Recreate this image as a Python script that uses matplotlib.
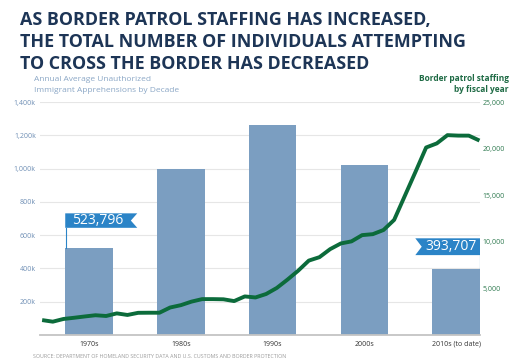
import numpy as np
import matplotlib.pyplot as plt
from matplotlib.patches import Polygon

# Apprehensions by decade
decades = ["1970s", "1980s", "1990s", "2000s", "2010s (to date)"]
apprehensions = [523796, 1000000, 1261000, 1021000, 393707]

# Border patrol staffing by fiscal year
years = list(range(1973, 2015))
staffing = [1600, 1430, 1720, 1850, 1990, 2120, 2040, 2320, 2150, 2380,
            2390, 2390, 2950, 3200, 3580, 3850, 3850, 3830, 3640, 4139,
            4028, 4400, 5049, 5942, 6895, 7982, 8351, 9212, 9821, 10045,
            10717, 10819, 11264, 12349, 14923, 17499, 20119, 20558, 21444, 21394,
            21391, 20863]

left_ticks = [200000, 400000, 600000, 800000, 1000000, 1200000, 1400000]
left_labels = ["200k", "400k", "600k", "800k", "1,000k", "1,200k", "1,400k"]
right_ticks = [5000, 10000, 15000, 20000, 25000]
right_labels = ["5,000", "10,000", "15,000", "20,000", "25,000"]

navy = "#1d3556"
bar_col = "#7b9ec1"
green = "#0c6b3b"
flag_col = "#2b84c7"

plt.rcParams['font.family'] = ['Open Sans', 'DejaVu Sans']

fig = plt.figure(figsize=(5.2, 3.64), dpi=100)
pos = [40/520, 1 - 335/364, 440/520, 233/364]
ax = fig.add_axes(pos)

x = np.arange(len(decades))
w = 0.52
ax.bar(x, apprehensions, width=w, color=bar_col, zorder=2)
ax.set_xlim(-0.535, 4.26)
ax.set_ylim(0, 1400000)
ax.set_yticks(left_ticks)
ax.set_yticklabels(left_labels)
ax.set_xticks(x)
ax.set_xticklabels(decades)
ax.tick_params(axis='y', length=0, pad=3, labelsize=5, labelcolor="#6f8fb5")
ax.tick_params(axis='x', length=0, pad=4, labelsize=5, labelcolor="#333333")
ax.grid(axis='y', color="#e6e6e6", linewidth=0.8, zorder=0)
for s in ["top", "right", "left"]:
    ax.spines[s].set_visible(False)
ax.spines["bottom"].set_color("#c4c4c4")
ax.spines["bottom"].set_linewidth(1.3)
ax.spines["bottom"].set_zorder(3)


def flag(x0, x1, y0, y1, notch_right, bar_top, pole_x, text):
    d = 0.07
    if notch_right:
        pts = [(x0, y0), (x1, y0), (x1 - d, (y0 + y1) / 2), (x1, y1), (x0, y1)]
    else:
        pts = [(x0, y0), (x1, y0), (x1, y1), (x0, y1), (x0 + d, (y0 + y1) / 2)]
    ax.add_patch(Polygon(pts, closed=True, color=flag_col, zorder=4, lw=0))
    ax.plot([pole_x, pole_x], [bar_top, y0], color=flag_col, lw=0.8, zorder=4)
    cx = (x0 + x1) / 2 + (-d / 2 if notch_right else d / 2)
    ax.text(cx, (y0 + y1) / 2, text, color="white", fontsize=10,
            ha='center', va='center', zorder=5)


flag(-0.26, 0.525, 644000, 731000, True, apprehensions[0], -0.255, "523,796")
flag(3.555, 4.262, 480000, 581000, False, apprehensions[4], 4.257, "393,707")

# staffing line on its own axes laid over the bars
ax2 = fig.add_axes(pos)
ax2.patch.set_visible(False)
ax2.plot(years, staffing, color=green, lw=2.8, solid_capstyle='butt',
         solid_joinstyle='round', clip_on=False, zorder=6)
ax2.set_xlim(1972.8, 2014.05)
ax2.set_ylim(0, 25000)
ax2.yaxis.tick_right()
ax2.set_yticks(right_ticks)
ax2.set_yticklabels(right_labels)
ax2.set_xticks([])
ax2.tick_params(axis='y', length=0, pad=2, labelsize=5, labelcolor="#2f7a50")
for s in ax2.spines.values():
    s.set_visible(False)

# title
title_lines = ["AS BORDER PATROL STAFFING HAS INCREASED,",
               "THE TOTAL NUMBER OF INDIVIDUALS ATTEMPTING",
               "TO CROSS THE BORDER HAS DECREASED"]
for i, line in enumerate(title_lines):
    fig.text(20/520, 1 - (25 + 22 * i)/364, line, fontsize=12.85,
             fontweight='bold', color=navy, va='baseline', ha='left')

fig.text(34/520, 1 - 81/364, "Annual Average Unauthorized", fontsize=6,
         color="#8ba7c6", va='baseline')
fig.text(34/520, 1 - 92/364, "Immigrant Apprehensions by Decade", fontsize=6,
         color="#8ba7c6", va='baseline')
fig.text(509/520, 1 - 81/364, "Border patrol staffing", fontsize=6,
         fontweight='bold', color="#1f6b45", va='baseline', ha='right')
fig.text(509/520, 1 - 92/364, "by fiscal year", fontsize=6,
         fontweight='bold', color="#1f6b45", va='baseline', ha='right')

fig.text(33/520, 1 - 357/364,
         "SOURCE: DEPARTMENT OF HOMELAND SECURITY DATA AND U.S. CUSTOMS AND BORDER PROTECTION",
         fontsize=3.8, color="#9a9a9a", va='center')

fig.savefig("out.png", dpi=100)
